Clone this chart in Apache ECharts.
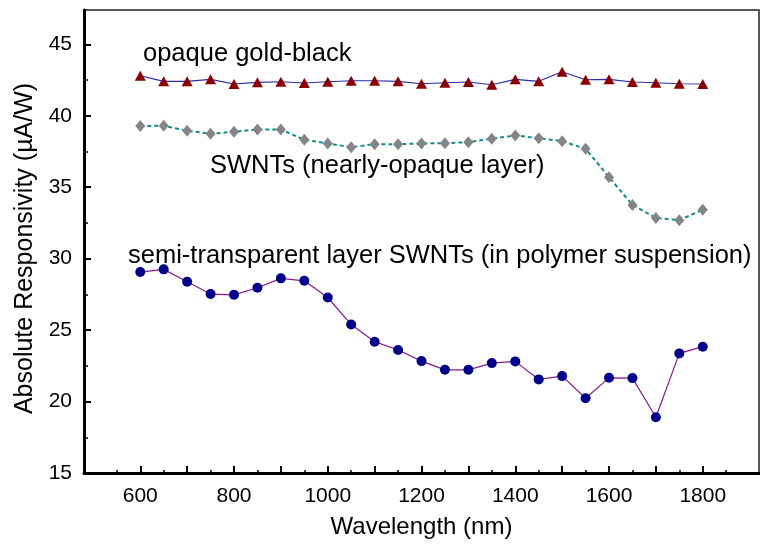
<!DOCTYPE html>
<html>
<head>
<meta charset="utf-8">
<script src="https://cdn.jsdelivr.net/npm/echarts@6/dist/echarts.min.js"></script>
<style>html,body{margin:0;padding:0;background:#fff;}#c{width:760px;height:546px;}</style>
</head>
<body>
<div id="c"></div>
<script>
const wavelengths = [600,650,700,750,800,850,900,950,1000,1050,1100,1150,1200,1250,1300,1350,1400,1450,1500,1550,1600,1650,1700,1750,1800];
const goldBlack = [42.80,42.41,42.41,42.55,42.22,42.34,42.38,42.29,42.38,42.45,42.45,42.41,42.24,42.31,42.36,42.17,42.55,42.41,43.08,42.52,42.55,42.36,42.31,42.24,42.22];
const swntOpaque = [39.28,39.30,38.95,38.74,38.88,39.04,39.04,38.32,38.06,37.80,38.01,38.01,38.06,38.08,38.15,38.39,38.62,38.43,38.22,37.69,35.70,33.76,32.85,32.69,33.43];
const swntSemi = [29.06,29.25,28.38,27.52,27.47,27.96,28.62,28.45,27.28,25.39,24.19,23.61,22.83,22.22,22.22,22.69,22.81,21.55,21.78,20.23,21.66,21.64,18.90,23.37,23.84];
const xLabels = [600,800,1000,1200,1400,1600,1800];
const xMajorTicks = [600,700,800,900,1000,1100,1200,1300,1400,1500,1600,1700,1800];
const xMinorTicks = [550,650,750,850,950,1050,1150,1250,1350,1450,1550,1650,1750,1850];
const yLabels = [15,20,25,30,35,40,45];
const yMajorTicks = [20,25,30,35,40,45];
const yMinorTicks = [17.5,22.5,27.5,32.5,37.5,42.5];
const annotations = ['opaque gold-black','SWNTs (nearly-opaque layer)','semi-transparent layer SWNTs (in polymer suspension)'];

const pair = (ys) => wavelengths.map((w,i)=>[w, ys[i]]);
const FONT = '"Liberation Sans", Arial, sans-serif';
const chart = echarts.init(document.getElementById('c'), null, {renderer:'canvas'});
chart.setOption({
  animation:false,
  backgroundColor:'#fff',
  grid:{left:84,right:1,top:10,bottom:73,show:true,borderColor:'#222',borderWidth:1.5,containLabel:false},
  xAxis:[{
    type:'value',min:480,max:1920,position:'bottom',
    name:'Wavelength (nm)',nameLocation:'middle',nameGap:42,
    nameTextStyle:{fontFamily:FONT,fontSize:24,color:'#000'},
    axisLine:{show:true,onZero:false,lineStyle:{color:'#000',width:3}},
    axisTick:{show:true,inside:true,length:7,lineStyle:{color:'#000',width:2},customValues:xMajorTicks},
    axisLabel:{show:true,fontFamily:FONT,fontSize:21,color:'#000',margin:13,customValues:xLabels,formatter:(v)=>String(v)},
    splitLine:{show:false}
  },{
    type:'value',min:480,max:1920,position:'bottom',offset:0,
    axisLine:{show:false},
    axisTick:{show:true,inside:true,length:3,lineStyle:{color:'#000',width:1.5},customValues:xMinorTicks},
    axisLabel:{show:false},splitLine:{show:false}
  }],
  yAxis:[{
    type:'value',min:15,max:47.4,position:'left',
    name:'Absolute Responsivity (\u00b5A/W)',nameLocation:'middle',nameGap:41,nameRotate:90,
    nameTextStyle:{fontFamily:FONT,fontSize:25,color:'#000',padding:[0,14,0,0]},
    axisLine:{show:true,onZero:false,lineStyle:{color:'#000',width:3}},
    axisTick:{show:true,inside:true,length:7,lineStyle:{color:'#000',width:2},customValues:yMajorTicks},
    axisLabel:{show:true,fontFamily:FONT,fontSize:21,color:'#000',margin:12,customValues:yLabels},
    splitLine:{show:false}
  },{
    type:'value',min:15,max:47.4,position:'left',offset:0,
    axisLine:{show:false},
    axisTick:{show:true,inside:true,length:4,lineStyle:{color:'#000',width:1.5},customValues:yMinorTicks},
    axisLabel:{show:false},splitLine:{show:false}
  }],
  series:[
    {type:'line',name:annotations[0],data:pair(goldBlack),symbol:'triangle',symbolSize:[11,10],
     itemStyle:{color:'#8b0000'},lineStyle:{color:'#2a2aa8',width:1.2},z:3},
    {type:'line',name:annotations[1],data:pair(swntOpaque),symbol:'diamond',symbolSize:[10,12],
     itemStyle:{color:'#858585'},lineStyle:{color:'#138c8c',width:2,type:[4,3]},z:3},
    {type:'line',name:annotations[2],data:pair(swntSemi),symbol:'circle',symbolSize:10,
     itemStyle:{color:'#00008b'},lineStyle:{color:'#8b1a8b',width:1.2},z:3}
  ],
  graphic:[
    {type:'text',left:143,top:41,style:{text:annotations[0],font:'25.5px '+FONT,fill:'#000'}},
    {type:'text',left:210,top:153,style:{text:annotations[1],font:'25.5px '+FONT,fill:'#000'}},
    {type:'text',left:128,top:243,style:{text:annotations[2],font:'25.5px '+FONT,fill:'#000'}}
  ]
});
</script>
</body>
</html>
